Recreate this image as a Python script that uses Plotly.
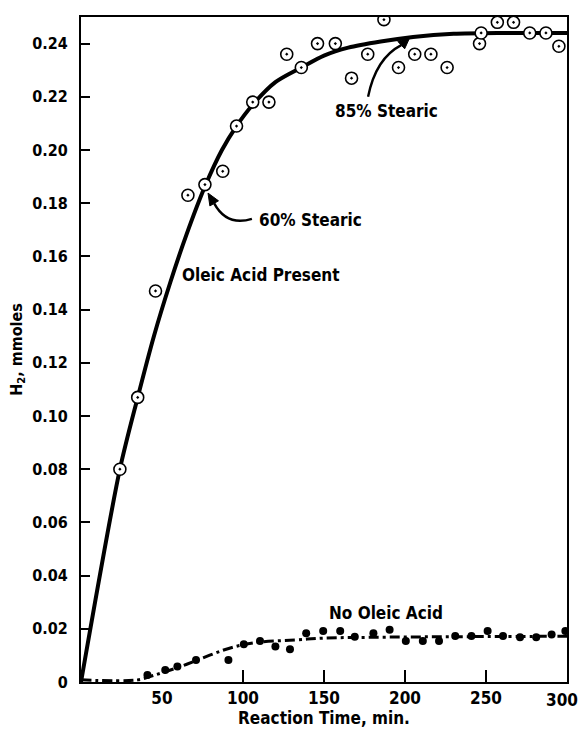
import plotly.graph_objects as go

# ---- data ----
oleic_x = [24, 35, 46, 66, 76.5, 87.5, 96, 106, 116, 127, 136, 146, 157, 167, 177,
           187, 196, 206, 216, 226, 246, 247, 257, 267, 277, 287, 295]
oleic_y = [0.080, 0.107, 0.147, 0.183, 0.187, 0.192, 0.209, 0.218, 0.218, 0.236, 0.231,
           0.240, 0.240, 0.227, 0.236, 0.249, 0.231, 0.236, 0.236, 0.231, 0.240, 0.244,
           0.248, 0.248, 0.244, 0.244, 0.239]

oleic_curve_x = [0, 24, 35, 45, 55, 65, 77, 87, 96, 106, 120, 136, 150, 165, 185, 205,
                 230, 260, 300]
oleic_curve_y = [0, 0.080, 0.107, 0.130, 0.150, 0.168, 0.187, 0.200, 0.209, 0.217, 0.2255,
                 0.231, 0.2355, 0.2385, 0.2408, 0.2425, 0.2437, 0.244, 0.244]

no_x = [41, 52, 59.5, 71, 91, 100.5, 110.5, 120, 129, 139, 149.5, 160, 169, 180.5, 190.5,
        200.5, 211, 221, 231, 241, 251, 260.5, 271, 281, 290.5, 299]
no_y = [0.0026, 0.0045, 0.0058, 0.0083, 0.0083, 0.0142, 0.0154, 0.0133, 0.0123, 0.0183,
        0.0192, 0.0192, 0.0170, 0.0183, 0.0196, 0.0154, 0.0154, 0.0154, 0.0173, 0.0173,
        0.0192, 0.0173, 0.0168, 0.0168, 0.0179, 0.0192]

no_curve_x = [0, 35, 45, 60, 71, 87, 100, 110, 132, 150, 180, 220, 260, 300]
no_curve_y = [0.0008, 0.0008, 0.0025, 0.0055, 0.0080, 0.0118, 0.0140, 0.0150, 0.0158,
              0.0165, 0.0168, 0.0170, 0.0171, 0.0172]

y_ticks = [0, 0.02, 0.04, 0.06, 0.08, 0.10, 0.12, 0.14, 0.16, 0.18, 0.20, 0.22, 0.24]
y_tick_text = ["0", "0.02", "0.04", "0.06", "0.08", "0.10", "0.12", "0.14", "0.16",
               "0.18", "0.20", "0.22", "0.24"]
x_label_vals = [50, 100, 150, 200, 250]
x_last_label = 300
x_tick_marks = [100, 150, 200, 250]

FONT = "Liberation Sans Narrow, DejaVu Sans Condensed, Roboto Condensed, Arial Narrow, DejaVu Sans, sans-serif"

W, H = 581, 734
ML, MR, MT, MB = 81, 14, 17, 52
X_RANGE = [0, 300]
Y_RANGE = [0, 0.25]
SX = (W - ML - MR) / (X_RANGE[1] - X_RANGE[0])   # px per x unit
SY = (H - MT - MB) / (Y_RANGE[1] - Y_RANGE[0])   # px per y unit


def arrow_head(tip_x, tip_y, dir_px, length=12, half=5):
    """Triangle path for an arrow head; dir_px is the screen direction (y down)."""
    dx, dy = dir_px
    n = (dx * dx + dy * dy) ** 0.5
    ux, uy = dx / n, dy / n
    bx, by = -ux * length, -uy * length          # base centre offset (px)
    px_, py_ = -uy * half, ux * half             # perpendicular (px)
    pts = [(0, 0), (bx + px_, by + py_), (bx - px_, by - py_)]
    coords = [(tip_x + ox / SX, tip_y - oy / SY) for ox, oy in pts]
    base = (tip_x + bx / SX, tip_y - by / SY)
    path = "M " + " L ".join(f"{cx},{cy}" for cx, cy in coords) + " Z"
    return path, base


fig = go.Figure()

fig.add_trace(go.Scatter(x=oleic_curve_x, y=oleic_curve_y, mode="lines",
                         line=dict(color="black", width=4, shape="spline", smoothing=0.8),
                         hoverinfo="skip", showlegend=False))
fig.add_trace(go.Scatter(x=no_curve_x, y=no_curve_y, mode="lines",
                         line=dict(color="black", width=3, dash="10px,4px,3px,4px",
                                   shape="spline"),
                         hoverinfo="skip", showlegend=False))
fig.add_trace(go.Scatter(x=oleic_x, y=oleic_y, mode="markers",
                         marker=dict(symbol="circle-dot", size=12, color="white",
                                     line=dict(color="black", width=1.6)),
                         showlegend=False))
fig.add_trace(go.Scatter(x=no_x, y=no_y, mode="markers",
                         marker=dict(symbol="circle", size=8, color="black"),
                         showlegend=False))
# invisible trace to carry the tick-mark axis
fig.add_trace(go.Scatter(x=X_RANGE, y=[0, 0], xaxis="x2", mode="markers",
                         marker=dict(opacity=0), hoverinfo="skip", showlegend=False))

tick_font = dict(family=FONT, size=17, color="black", weight="bold")

fig.update_layout(
    width=W, height=H,
    margin=dict(l=ML, r=MR, t=MT, b=MB, autoexpand=False),
    paper_bgcolor="white", plot_bgcolor="white",
    font=dict(family=FONT, size=16, color="black"),
    xaxis=dict(range=X_RANGE, tickvals=x_label_vals, ticktext=[str(v) for v in x_label_vals],
               ticks="", showgrid=False, zeroline=False, showline=True, linecolor="black",
               linewidth=2, mirror=True, automargin=False, tickfont=tick_font,
               title=dict(text="<b>Reaction Time, min.</b>", standoff=4,
                          font=dict(family=FONT, size=17))),
    xaxis2=dict(range=X_RANGE, overlaying="x", side="bottom", tickvals=x_tick_marks,
                ticks="inside", ticklen=12, tickwidth=2, tickcolor="black",
                showticklabels=False, showgrid=False, zeroline=False, showline=False,
                automargin=False),
    yaxis=dict(range=Y_RANGE, tickvals=y_ticks, ticktext=y_tick_text,
               ticks="inside", ticklen=9, tickwidth=2, tickcolor="black",
               showgrid=False, zeroline=False, showline=True, linecolor="black",
               linewidth=2, mirror=True, ticklabelstandoff=8, automargin=False,
               tickfont=dict(family=FONT, size=16, color="black", weight="bold"),
               title=dict(text="<b>H<sub>2</sub>, mmoles</b>", standoff=6,
                          font=dict(family=FONT, size=16))),
)

# last x label, kept inside the page edge
fig.add_annotation(x=x_last_label, xref="x", y=0, yref="paper", text=str(x_last_label),
                   showarrow=False, xanchor="right", yanchor="top", xshift=13, yshift=-6,
                   font=tick_font)

ann_font = dict(family=FONT, size=17, color="black", weight="bold")
fig.add_annotation(x=110.5, y=0.153, text="Oleic Acid Present", showarrow=False, font=ann_font)
fig.add_annotation(x=141.5, y=0.1737, text="60% Stearic", showarrow=False, font=ann_font)
fig.add_annotation(x=188.3, y=0.2147, text="85% Stearic", showarrow=False, font=ann_font)
fig.add_annotation(x=188.3, y=0.026, text="No Oleic Acid", showarrow=False, font=ann_font)

# curved arrows: shaft + filled head
head60, base60 = arrow_head(78.4, 0.1838, (-6, -10))
head85, base85 = arrow_head(203.1, 0.2425, (15, -14))
fig.add_shape(type="path", xref="x", yref="y",
              path=f"M 105.5,0.1741 Q 90,0.1712 {base60[0]},{base60[1]}",
              line=dict(color="black", width=2.4))
fig.add_shape(type="path", xref="x", yref="y",
              path=f"M 177.2,0.2200 Q 182,0.2345 {base85[0]},{base85[1]}",
              line=dict(color="black", width=2.4))
for p in (head60, head85):
    fig.add_shape(type="path", xref="x", yref="y", path=p,
                  fillcolor="black", line=dict(color="black", width=1))

fig.write_html("out.html")
